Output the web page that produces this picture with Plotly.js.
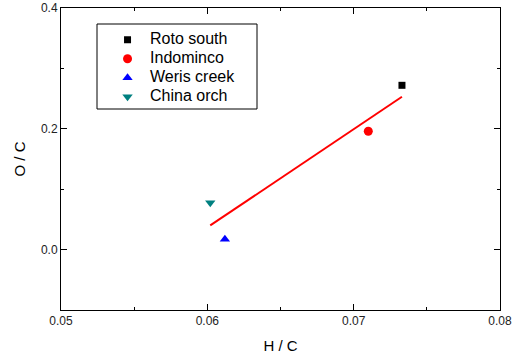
<!DOCTYPE html>
<html><head><meta charset="utf-8">
<script src="https://cdn.plot.ly/plotly-3.0.1.min.js"></script>
<style>html,body{margin:0;padding:0;background:#fff}#c{width:521px;height:356px}</style>
</head><body><div id="c"></div>
<script>
const seriesNames = ["Roto south", "Indominco", "Weris creek", "China orch"];
const hcValues = [0.0733, 0.0710, 0.0612, 0.0602];
const ocValues = [0.272, 0.196, 0.017, 0.0775];
const markerSymbols = ["square", "circle", "triangle-up", "triangle-down"];
const markerColors = ["#000000", "#ff0000", "#0000ff", "#008080"];
const markerSizes = [7, 9, 9, 9];
const fitX = [0.0602, 0.0733];
const fitY = [0.040, 0.253];

const traces = seriesNames.map((n, i) => ({
  x: [hcValues[i]], y: [ocValues[i]],
  name: '<span style="font-size:16px">' + n + '</span>',
  type: 'scatter', mode: 'markers',
  marker: {symbol: markerSymbols[i], color: markerColors[i], size: markerSizes[i]}
}));
traces.push({x: fitX, y: fitY, type: 'scatter', mode: 'lines', showlegend: false,
  line: {color: '#ff0000', width: 2}});

const axFont = {family: 'Arial, Liberation Sans, sans-serif', size: 12, color: '#222'};
const layout = {
  width: 521, height: 356,
  margin: {l: 61, r: 21, t: 8, b: 46},
  paper_bgcolor: '#fff', plot_bgcolor: '#fff',
  font: {family: 'Arial, Liberation Sans, sans-serif', color: '#000'},
  showlegend: true,
  legend: {x: 0.1003, y: 0.943, xanchor: 'left', yanchor: 'top', itemwidth: 35,
    borderwidth: 0, bgcolor: 'rgba(0,0,0,0)',
    font: {size: 12, color: '#000'}, tracegroupgap: 0},
  shapes: [{type: 'rect', xref: 'paper', yref: 'paper',
    x0: (97 - 61) / 439, x1: (257 - 61) / 439, y0: 1 - (109 - 8) / 302, y1: 1 - (24 - 8) / 302,
    line: {color: '#000', width: 1}, layer: 'below'}],
  xaxis: {range: [0.05, 0.08], dtick: 0.01, tick0: 0.05, tickformat: '.2f',
    ticks: 'inside', ticklen: 6, tickcolor: '#000', showline: true, linecolor: '#000', linewidth: 1,
    mirror: 'ticks', showgrid: false, zeroline: false, tickfont: axFont,
    minor: {dtick: 0.005, ticks: 'inside', ticklen: 3, tickcolor: '#000', showgrid: false},
    title: {text: 'H / C', font: {size: 15, color: '#000'}, standoff: 13}},
  yaxis: {range: [-0.1, 0.4], dtick: 0.2, tick0: 0, tickformat: '.1f',
    ticks: 'inside', ticklen: 6, tickcolor: '#000', showline: true, linecolor: '#000', linewidth: 1,
    mirror: 'ticks', showgrid: false, zeroline: false, tickfont: axFont,
    minor: {dtick: 0.1, ticks: 'inside', ticklen: 3, tickcolor: '#000', showgrid: false},
    title: {text: 'O / C', font: {size: 15, color: '#000'}, standoff: 11}}
};
Plotly.newPlot('c', traces, layout, {displayModeBar: false, staticPlot: true});
</script></body></html>
